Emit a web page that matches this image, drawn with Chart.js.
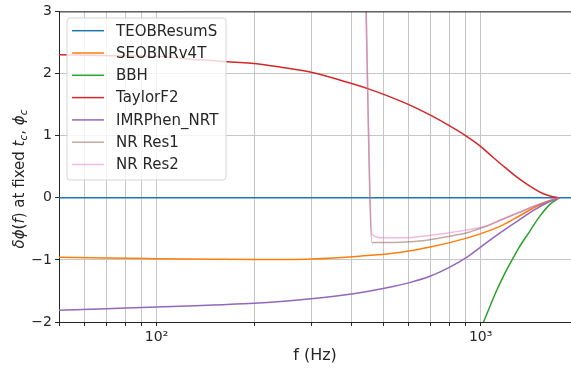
<!DOCTYPE html>
<html>
<head>
<meta charset="utf-8">
<script src="https://cdn.jsdelivr.net/npm/chart.js@4.4.1/dist/chart.umd.min.js"></script>
<style>
  html, body { margin: 0; padding: 0; background: #fff; }
  canvas { display: block; }
</style>
</head>
<body>
<canvas id="chart" width="571" height="368"></canvas>
<script>
// values (f in Hz, dphi in rad)
const seriesNames = ['TEOBResumS', 'SEOBNRv4T', 'BBH', 'TaylorF2', 'IMRPhen_NRT', 'NR Res1', 'NR Res2'];
const seriesColors = ['#1f77b4', '#ff7f0e', '#2ca02c', '#d62728', '#9467bd', 'rgba(140,86,75,0.5)', 'rgba(227,119,194,0.5)'];

const freqTEOB = [50, 1900];
const teob = [0, 0];

const freqSEOB = [50, 70, 100, 150, 200, 300, 423, 562, 711, 905, 1043, 1169, 1319, 1489, 1633, 1750];
const seob = [-0.957, -0.97, -0.98, -0.99, -0.995, -0.985, -0.94, -0.88, -0.785, -0.65, -0.545, -0.44, -0.29, -0.136, -0.048, 0];

const freqBBH = [979, 1021, 1121, 1186, 1256, 1319, 1417, 1521, 1633, 1750];
const bbh = [-2.23, -2.0, -1.49, -1.22, -0.98, -0.785, -0.54, -0.30, -0.11, 0];

const freqTF2 = [50, 67, 100, 136, 200, 240, 300, 400, 455, 495, 600, 700, 800, 893, 993, 1089, 1194, 1319, 1447, 1576, 1668, 1750];
const taylorF2 = [2.303, 2.29, 2.276, 2.22, 2.16, 2.104, 2.02, 1.838, 1.745, 1.677, 1.50, 1.33, 1.162, 1.01, 0.84, 0.657, 0.48, 0.30, 0.16, 0.056, 0.016, 0];

const freqIMR = [50, 70, 100, 150, 200, 300, 400, 500, 600, 700, 800, 905, 1014, 1145, 1291, 1447, 1633, 1750];
const imrPhen = [-1.81, -1.785, -1.76, -1.725, -1.70, -1.625, -1.55, -1.46, -1.37, -1.26, -1.12, -0.96, -0.77, -0.57, -0.385, -0.21, -0.06, 0];

const freqNR = [441, 462, 498, 543, 604, 681, 820, 925, 972, 1043, 1169, 1319, 1489, 1633, 1750];
const nrRes1 = [3.5, -0.72, -0.72, -0.72, -0.71, -0.685, -0.61, -0.55, -0.51, -0.455, -0.345, -0.233, -0.12, -0.048, 0];
const nrRes2 = [3.5, -0.59, -0.645, -0.645, -0.64, -0.61, -0.556, -0.51, -0.49, -0.455, -0.345, -0.233, -0.12, -0.048, 0];

const xTicks = [50, 60, 70, 80, 90, 100, 200, 300, 400, 500, 600, 700, 800, 900, 1000];
const yTicks = [-2, -1, 0, 1, 2, 3];

const allFreqs = [freqTEOB, freqSEOB, freqBBH, freqTF2, freqIMR, freqNR, freqNR];
const allValues = [teob, seob, bbh, taylorF2, imrPhen, nrRes1, nrRes2];

const datasets = seriesNames.map((name, i) => ({
  label: name,
  data: allFreqs[i].map((f, j) => ({ x: f, y: allValues[i][j] })),
  borderColor: seriesColors[i],
  backgroundColor: seriesColors[i],
  borderWidth: 1.5,
  pointRadius: 0,
  fill: false,
  cubicInterpolationMode: 'monotone',
  order: seriesNames.length - i   // later series on top, like matplotlib
}));

const TXT = '#262626';
const GRID = '#c6c6c6';

// top spine, y-axis label with sub-scripts, legend box inside the axes
const extras = {
  id: 'extras',
  afterDraw(chart) {
    const ctx = chart.ctx;
    const a = chart.chartArea;
    ctx.save();
    ctx.strokeStyle = TXT;
    ctx.lineWidth = 1;
    ctx.beginPath();
    ctx.moveTo(a.left, a.top + 0.5);
    ctx.lineTo(a.right, a.top + 0.5);
    ctx.stroke();

    // y label
    const MI = 'italic 15px "DejaVu Sans"', RM = '15px "DejaVu Sans"', SB = 'italic 10.5px "DejaVu Sans"';
    const parts = [
      { t: '\u03b4\u03d5', f: MI },
      { t: '(', f: RM },
      { t: 'f', f: MI },
      { t: ')', f: RM },
      { t: ' at fixed ', f: RM },
      { t: 't', f: MI },
      { t: 'c', f: SB, sub: true },
      { t: ', ', f: RM },
      { t: '\u03d5', f: MI },
      { t: 'c', f: SB, sub: true }
    ];
    let total = 0;
    parts.forEach(p => { ctx.font = p.f; p.w = ctx.measureText(p.t).width; total += p.w; });
    ctx.translate(24, 179);
    ctx.rotate(-Math.PI / 2);
    ctx.fillStyle = TXT;
    ctx.textBaseline = 'alphabetic';
    let x = -total / 2;
    parts.forEach(p => {
      ctx.font = p.f;
      ctx.fillText(p.t, x, p.sub ? 3 : 0);
      x += p.w;
    });
    ctx.restore();

    // legend
    ctx.save();
    const bx = 67, by = 18, bw = 159, bh = 162, r = 3;
    ctx.beginPath();
    ctx.moveTo(bx + r, by);
    ctx.arcTo(bx + bw, by, bx + bw, by + bh, r);
    ctx.arcTo(bx + bw, by + bh, bx, by + bh, r);
    ctx.arcTo(bx, by + bh, bx, by, r);
    ctx.arcTo(bx, by, bx + bw, by, r);
    ctx.closePath();
    ctx.fillStyle = 'rgba(255,255,255,0.8)';
    ctx.fill();
    ctx.strokeStyle = '#d6d6d6';
    ctx.lineWidth = 1;
    ctx.stroke();
    ctx.font = '15px "DejaVu Sans"';
    ctx.textBaseline = 'middle';
    chart.data.datasets.forEach((ds, i) => {
      const y = 30.7 + i * 22.3;
      ctx.strokeStyle = ds.borderColor;
      ctx.lineWidth = 1.5;
      ctx.beginPath();
      ctx.moveTo(72, y);
      ctx.lineTo(104, y);
      ctx.stroke();
      ctx.fillStyle = TXT;
      ctx.fillText(ds.label, 116, y + 1);
    });
    ctx.restore();
  }
};

new Chart(document.getElementById('chart').getContext('2d'), {
  type: 'line',
  data: { datasets },
  options: {
    responsive: false,
    animation: false,
    layout: { padding: { top: 10, right: 0, left: 0, bottom: 0 } },
    plugins: { legend: { display: false }, tooltip: { enabled: false } },
    scales: {
      x: {
        type: 'logarithmic',
        min: 50,
        max: 1900,
        afterBuildTicks: s => { s.ticks = xTicks.map(v => ({ value: v })); },
        afterFit: s => { s.height = 46; },
        grid: { color: GRID, lineWidth: 1, tickLength: 4, tickColor: TXT },
        border: { display: true, color: TXT, width: 1 },
        ticks: {
          autoSkip: false,
          maxRotation: 0,
          padding: 3,
          color: TXT,
          font: { family: 'DejaVu Sans', size: 14 },
          callback: v => v === 100 ? '10\u00b2' : (v === 1000 ? '10\u00b3' : '')
        },
        title: {
          display: true,
          text: 'f (Hz)',
          color: TXT,
          font: { family: 'DejaVu Sans', size: 16 },
          padding: { top: 0, bottom: 3 }
        }
      },
      y: {
        min: -2,
        max: 3,
        afterBuildTicks: s => { s.ticks = yTicks.map(v => ({ value: v })); },
        afterFit: s => { s.width = 59; },
        grid: { color: GRID, lineWidth: 1, tickLength: 4, tickColor: TXT },
        border: { display: true, color: TXT, width: 1 },
        ticks: {
          padding: 3,
          color: TXT,
          font: { family: 'DejaVu Sans', size: 14 },
          callback: v => v < 0 ? '\u2212' + Math.abs(v) : String(v)
        }
      }
    }
  },
  plugins: [extras]
});
</script>
</body>
</html>
